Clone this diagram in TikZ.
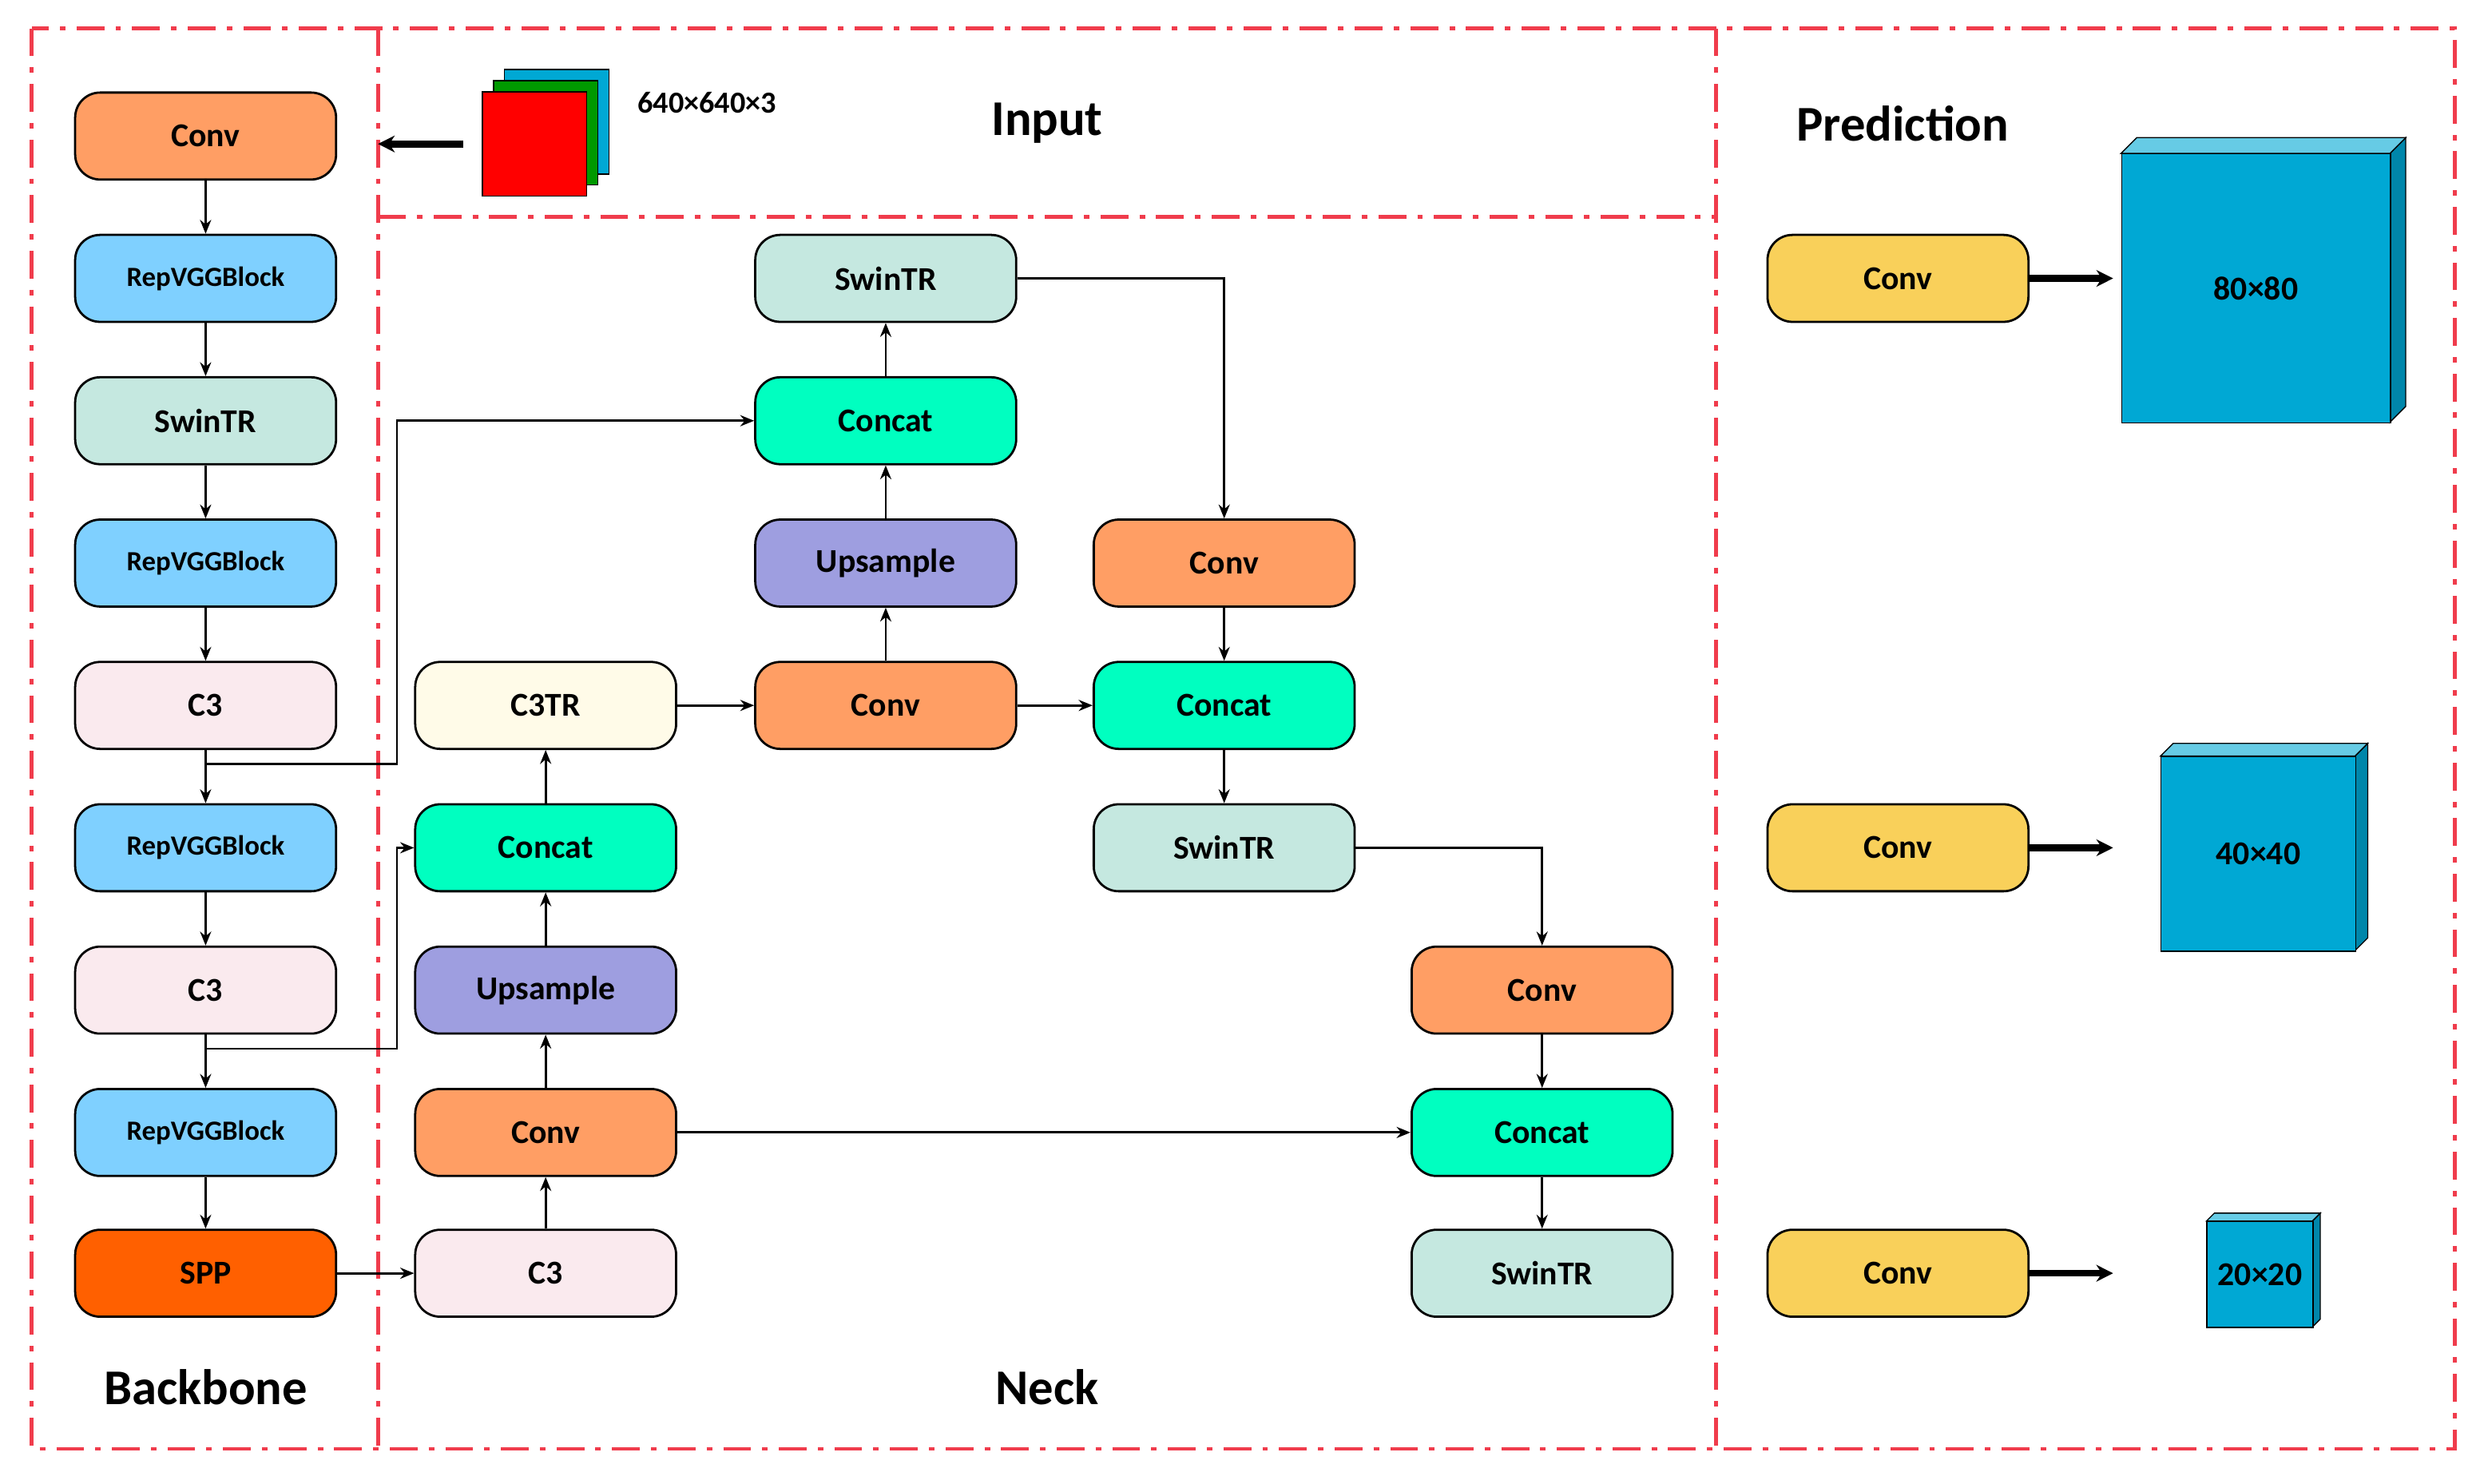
\documentclass[tikz,border=0pt]{standalone}
\usepackage{fontspec}
\setmainfont{Carlito}
\usetikzlibrary{positioning,arrows.meta}
\definecolor{convc}{HTML}{FF9E64}
\definecolor{repc}{HTML}{7FD0FF}
\definecolor{swinc}{HTML}{C5E8E0}
\definecolor{cthree}{HTML}{FAEAEE}
\definecolor{ctr}{HTML}{FFFBE8}
\definecolor{catc}{HTML}{00FFC0}
\definecolor{upc}{HTML}{9E9EE0}
\definecolor{sppc}{HTML}{FF6000}
\definecolor{predc}{HTML}{F9D05A}
\definecolor{cubec}{HTML}{00A8D4}
\definecolor{framec}{HTML}{F03C4C}
\tikzset{
  blk/.style={rectangle,rounded corners=9pt,draw=black,thick,minimum width=3.3cm,
    minimum height=1.1cm,font=\fontsize{12}{14}\selectfont\bfseries},
  small/.style={font=\fontsize{10}{12}\selectfont\bfseries},
  arr/.style={-{Stealth[length=5pt,width=4pt]},thick},
  fat/.style={-{Stealth[length=6pt,width=6pt]},line width=2.5pt},
  frame/.style={draw=framec,line width=1.3pt,dash pattern=on 10pt off 4pt on 2pt off 4pt},
  title/.style={font=\fontsize{18}{20}\selectfont\bfseries},
}
\begin{document}
\begin{tikzpicture}[x=0.02cm,y=-0.02cm]
  \useasboundingbox (0,0) rectangle (1568,938);
  % frames
  \draw[frame] (20,18) rectangle (1552,916);
  \draw[frame] (239,18) -- (239,916);
  \draw[frame] (1085,18) -- (1085,916);
  \draw[frame] (239,137) -- (1085,137);

  % backbone
  \node (bconv) [blk,fill=convc] at (130,86) {Conv};
  \node (brep_1) [blk,small,fill=repc] at (130,176) {RepVGGBlock};
  \node (bswin) [blk,fill=swinc] at (130,266) {SwinTR};
  \node (brep_2) [blk,small,fill=repc] at (130,356) {RepVGGBlock};
  \node (bcthree_1) [blk,fill=cthree] at (130,446) {C3};
  \node (brep_3) [blk,small,fill=repc] at (130,536) {RepVGGBlock};
  \node (bcthree_2) [blk,fill=cthree] at (130,626) {C3};
  \node (brep_4) [blk,small,fill=repc] at (130,716) {RepVGGBlock};
  \node (spp) [blk,fill=sppc] at (130,805) {SPP};
  \foreach \a/\b in {bconv/brep_1,brep_1/bswin,bswin/brep_2,brep_2/bcthree_1,
      bcthree_1/brep_3,brep_3/bcthree_2,bcthree_2/brep_4,brep_4/spp}
    \draw[arr] (\a) -- (\b);

  % neck
  \node (nctr) [blk,fill=ctr] at (345,446) {C3TR};
  \node (ncat_1) [blk,fill=catc] at (345,536) {Concat};
  \node (nup_1) [blk,fill=upc] at (345,626) {Upsample};
  \node (nconv_1) [blk,fill=convc] at (345,716) {Conv};
  \node (ncthree) [blk,fill=cthree] at (345,805) {C3};
  \node (nswin_1) [blk,fill=swinc] at (560,176) {SwinTR};
  \node (ncat_2) [blk,fill=catc] at (560,266) {Concat};
  \node (nup_2) [blk,fill=upc] at (560,356) {Upsample};
  \node (nconv_2) [blk,fill=convc] at (560,446) {Conv};
  \node (nconv_3) [blk,fill=convc] at (774,356) {Conv};
  \node (ncat_3) [blk,fill=catc] at (774,446) {Concat};
  \node (nswin_2) [blk,fill=swinc] at (774,536) {SwinTR};
  \node (nconv_4) [blk,fill=convc] at (975,626) {Conv};
  \node (ncat_4) [blk,fill=catc] at (975,716) {Concat};
  \node (nswin_3) [blk,fill=swinc] at (975,805) {SwinTR};

  \foreach \a/\b in {ncthree/nconv_1,nconv_1/nup_1,nup_1/ncat_1,ncat_1/nctr,
      nctr/nconv_2,nconv_2/nup_2,nup_2/ncat_2,ncat_2/nswin_1,nconv_2/ncat_3,
      nconv_3/ncat_3,ncat_3/nswin_2,nconv_4/ncat_4,ncat_4/nswin_3,spp/ncthree,
      nconv_1/ncat_4}
    \draw[arr] (\a) -- (\b);
  \draw[arr] (nswin_1.east) -| (nconv_3.north);
  \draw[arr] (nswin_2.east) -| (nconv_4.north);
  \coordinate (jone) at (130,483);
  \coordinate (jtwo) at (130,663);
  \draw[arr] (jone) -- (251,483) |- (ncat_2.west);
  \draw[arr] (jtwo) -- (251,663) |- (ncat_1.west);

  % input
  \node (imgb) [rectangle,fill=cubec,draw=black,thin,minimum size=1.32cm] at (352,77) {};
  \node (imgg) [rectangle,fill=green!60!black,draw=black,thin,minimum size=1.32cm] at (345,84) {};
  \node (imgr) [rectangle,fill=red,draw=black,thin,minimum size=1.32cm] at (338,91) {};
  \node (isize) [font=\fontsize{11}{13}\selectfont\bfseries] at (447,65) {640×640×3};
  \coordinate (iend) at (239,91);
  \draw[fat] (293,91) -- (iend);

  % prediction
  \node (pconv_1) [blk,fill=predc] at (1200,176) {Conv};
  \node (pconv_2) [blk,fill=predc] at (1200,536) {Conv};
  \node (pconv_3) [blk,fill=predc] at (1200,805) {Conv};
  \foreach \x/\y/\w/\d/\t [count=\i] in {1341/97/170/10/80×80,1366/478/123/8/40×40,1395/772/67/5/20×20}
  {
    \fill[cubec!80!black,draw=black] (\x+\w,\y) -- ++(\d,-\d) -- ++(0,\w) -- ++(-\d,\d) -- cycle;
    \fill[cubec!60!white,draw=black] (\x,\y) -- ++(\d,-\d) -- ++(\w,0) -- ++(-\d,\d) -- cycle;
    \node (cube_\i) [rectangle,fill=cubec,draw=black,anchor=north west,minimum width=\w*0.02cm,
      minimum height=\w*0.02cm,inner sep=0pt,font=\fontsize{12}{14}\selectfont\bfseries] at (\x,\y) {\t};
    \coordinate (ptip_\i) at (1336,\y+\w/2);
  }
  \draw[fat] (pconv_1.east) -- (1336,176);
  \draw[fat] (pconv_2.east) -- (1336,536);
  \draw[fat] (pconv_3.east) -- (1336,805);

  % titles
  \node (tin) [title] at (662,78) {Input};
  \node (tpred) [title] at (1203,78) {Prediction};
  \node (tback) [title] at (130,877) {Backbone};
  \node (tneck) [title] at (662,877) {Neck};
\end{tikzpicture}
\end{document}
